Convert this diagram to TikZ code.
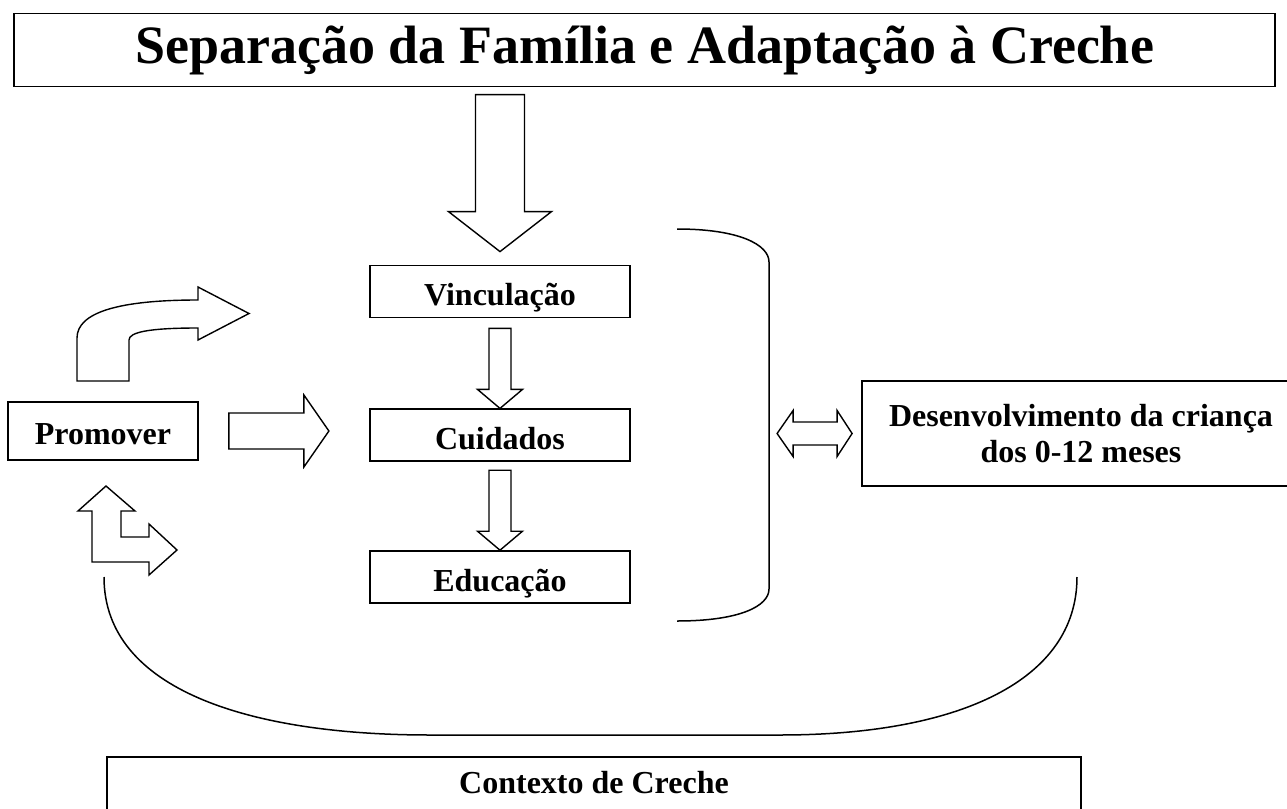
\documentclass[tikz,border=0pt]{standalone}
\usepackage{fontspec}
\setmainfont{Liberation Serif}
\usetikzlibrary{positioning}
\tikzset{caixa/.style={draw,line width=0.9pt,inner sep=0pt,align=center,font=\fontsize{16}{18}\selectfont\bfseries},
    umalinha/.style={caixa,text height=14pt,text depth=0pt},
    seta/.style={draw,line width=0.7pt,fill=white,line join=miter},
    linha/.style={line width=0.75pt}}

\begin{document}
\begin{tikzpicture}[x=0.5pt,y=-0.5pt]
                \useasboundingbox (0,0) rectangle (1287,809);
                \clip (0,0) rectangle (1287,809);

                \node[caixa,minimum width=630.5pt,minimum height=36.5pt,font=\fontsize{27}{30}\selectfont\bfseries] (titulo) at (644.5,50) {Separação da Família e Adaptação à Creche};
                \node[umalinha,minimum width=130pt,minimum height=26pt] (vinc) at (500,291.5) {Vinculação};
                \node[umalinha,minimum width=130pt,minimum height=26pt,below=45pt of vinc] (cuid) {Cuidados};
                \node[umalinha,minimum width=130pt,minimum height=26pt,below=44pt of cuid] (educ) {Educação};
                \node[umalinha,minimum width=95pt,minimum height=29pt,text height=13pt] (prom) at (103,431) {Promover};
                \node[caixa,minimum width=219pt,minimum height=52.5pt] (desenv) at (1081,433.5) {Desenvolvimento da criança\\dos 0-12 meses};
                \node[caixa,minimum width=487pt,minimum height=32pt,text height=12pt,text depth=8pt] (contexto) at (594,789) {Contexto de Creche};

                \coordinate (a) at (677,229);
                \coordinate (b) at (769,262);
                \coordinate (c) at (769,589);
                \coordinate (d) at (677,621);
                \coordinate (e) at (104,577);
                \coordinate (f) at (430,735);
                \coordinate (g) at (780,735);
                \coordinate (h) at (1077,577);

                \draw[seta] ([yshift=6.5pt]vinc.north) -- ++(51.5,-40) -- ++(-27,0) -- ++(0,-117)
                    -- ++(-49,0) -- ++(0,117) -- ++(-27,0) -- cycle;
                \draw[seta] (cuid.north) -- ++(22.5,-19) -- ++(-11.5,0) -- ++(0,-61)
                    -- ++(-22,0) -- ++(0,61) -- ++(-11.5,0) -- cycle;
                \draw[seta] (educ.north) -- ++(22.5,-19) -- ++(-11.5,0) -- ++(0,-61)
                    -- ++(-22,0) -- ++(0,61) -- ++(-11.5,0) -- cycle;
                \draw[seta] ([xshift=15pt]prom.east) -- ++(0,-18) -- ++(75,0) -- ++(0,-18)
                    -- ++(25,36) -- ++(-25,36) -- ++(0,-18) -- ++(-75,0) -- cycle;
                \draw[seta] ([xshift=-4.5pt]desenv.west) -- ++(-15,-23) -- ++(0,11.5) -- ++(-44,0)
                    -- ++(0,-11.5) -- ++(-16,23) -- ++(16,23) -- ++(0,-11.5) -- ++(44,0)
                    -- ++(0,11.5) -- cycle;

                \draw[seta] (77,381) -- (77,338)
                    .. controls (77,312) and (120,300) .. (198,300)
                    -- (198,287) -- (249,313.5) -- (198,340) -- (198,328)
                    .. controls (150,328) and (129,332) .. (129,340)
                    -- (129,381) -- cycle;
                \draw[seta] (106,486) -- (135,511) -- (121,511) -- (121,537) -- (149,537)
                    -- (149,524) -- (177,550) -- (149,575) -- (149,562) -- (92,562)
                    -- (92,511) -- (78,511) -- cycle;

                \draw[linha] (a)
                    .. controls (740,229) and (769,245) .. (b)
                    -- (c)
                    .. controls (769,606) and (740,621) .. (d)
                ;
                \draw[linha] (e)
                    .. controls (104,690) and (250,735) .. (f)
                    -- (g)
                    .. controls (960,735) and (1077,680) .. (h)
                ;
\end{tikzpicture}
\end{document}
